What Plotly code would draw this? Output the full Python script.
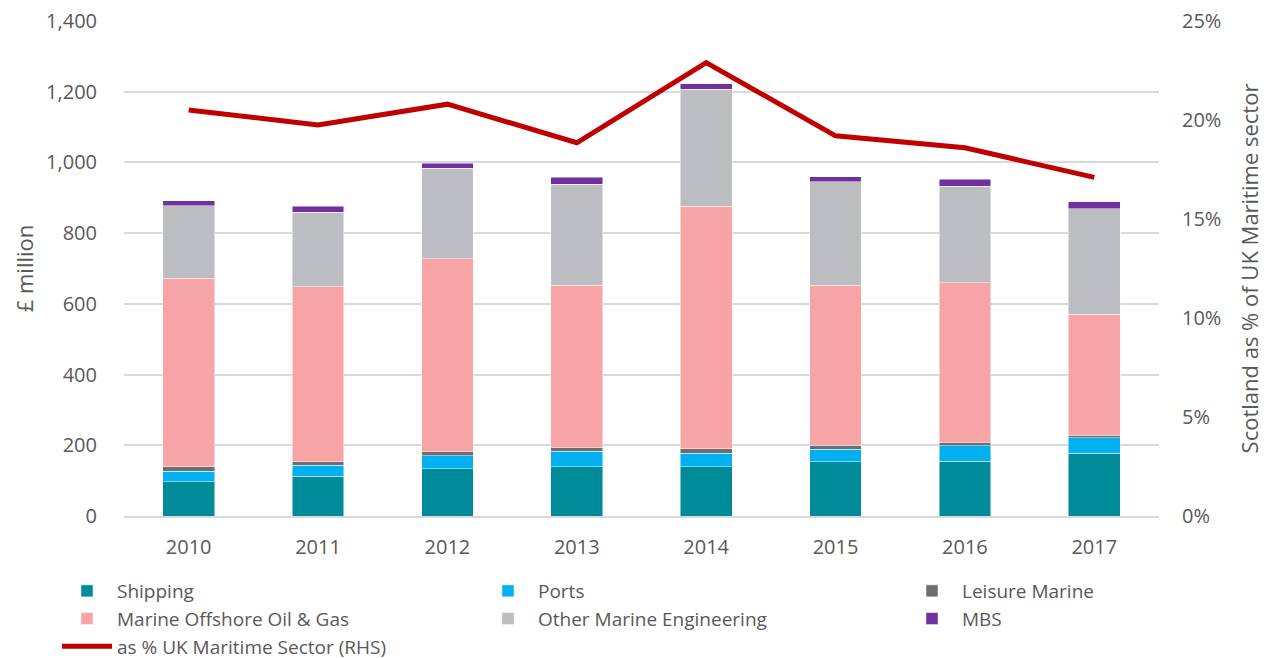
import plotly.graph_objects as go

years = ["2010", "2011", "2012", "2013", "2014", "2015", "2016", "2017"]
shipping = [97, 112, 134, 140, 140, 154, 155, 177]
ports = [30, 31, 37, 43, 38, 35, 44, 45]
leisure = [13, 11, 11, 10, 12, 11, 10, 7]
oil_gas = [532, 494, 546, 459, 686, 453, 451, 341]
other_eng = [205, 211, 256, 287, 331, 292, 272, 299]
mbs = [15, 17, 14, 19, 15, 14, 20, 20]
pct_uk = [0.205, 0.1975, 0.208, 0.1885, 0.229, 0.192, 0.186, 0.171]

left_ticks = [0, 200, 400, 600, 800, 1000, 1200, 1400]
left_labels = ["0", "200", "400", "600", "800", "1,000", "1,200", "1,400"]

FONT = "Open Sans"
GREY = "#595959"

series = [
    ("Shipping", shipping, "#008B9A", "legend"),
    ("Ports", ports, "#00B0F0", "legend2"),
    ("Leisure Marine", leisure, "#6D6E71", "legend3"),
    ("Marine Offshore Oil & Gas", oil_gas, "#F7A4A6", "legend"),
    ("Other Marine Engineering", other_eng, "#BCBDC0", "legend2"),
    ("MBS", mbs, "#7030A0", "legend3"),
]

fig = go.Figure()
for name, vals, col, leg in series:
    fig.add_trace(go.Bar(
        x=years, y=vals, name=name, marker_color=col,
        marker_line_color="rgba(255,255,255,0.6)", marker_line_width=0.8,
        legend=leg,
    ))

fig.add_trace(go.Scatter(
    x=years, y=pct_uk, name="as % UK Maritime Sector (RHS)", yaxis="y2",
    mode="lines", line=dict(color="#C00000", width=5), legend="legend",
))

leg_common = dict(
    orientation="h", traceorder="normal",
    entrywidth=560, entrywidthmode="pixels",
    font=dict(family=FONT, size=19, color=GREY),
    xref="container", yref="container", yanchor="top", xanchor="left",
    bgcolor="rgba(0,0,0,0)", itemwidth=50,
)
LEG_TOP = 1 - 564 / 658

fig.update_layout(
    width=1267, height=658,
    margin=dict(l=116, r=116, t=13, b=150),
    plot_bgcolor="white", paper_bgcolor="white",
    barmode="stack", bargap=0.6,
    font=dict(family=FONT, size=20, color=GREY),
    xaxis=dict(
        showgrid=False, showline=True, linecolor="#D9D9D9", linewidth=1.5,
        ticks="", tickfont=dict(size=20, color=GREY), ticklabelstandoff=12,
        tickangle=0, automargin=False,
    ),
    yaxis=dict(
        range=[0, 1400], tickvals=left_ticks, ticktext=left_labels,
        showgrid=True, gridcolor="#D9D9D9", gridwidth=1.5, zeroline=False,
        ticks="", tickfont=dict(size=20, color=GREY), ticklabelstandoff=26,
        ticklabeloverflow="allow", automargin=False,
        title=dict(text="£ million", font=dict(size=22, color=GREY), standoff=6),
    ),
    yaxis2=dict(
        range=[0, 0.25], dtick=0.05, tickformat=".0%", overlaying="y",
        side="right", showgrid=False, zeroline=False, ticks="",
        tickfont=dict(size=20, color=GREY), ticklabelstandoff=22,
        ticklabeloverflow="allow", automargin=False,
        title=dict(text="Scotland as % of UK Maritime sector",
                   font=dict(size=22, color=GREY), standoff=22),
    ),
    legend=dict(x=49 / 1267, y=LEG_TOP, **leg_common),
    legend2=dict(x=470 / 1267, y=LEG_TOP, **leg_common),
    legend3=dict(x=894 / 1267, y=LEG_TOP, **leg_common),
)

fig.write_html("out.html")
